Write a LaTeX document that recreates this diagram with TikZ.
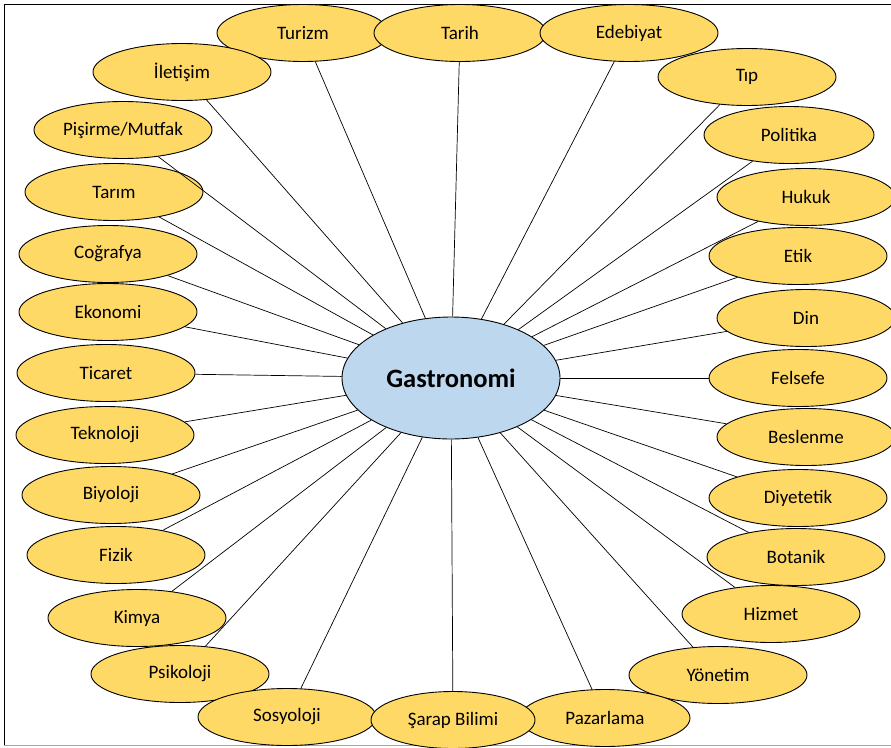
\documentclass[tikz,border=0pt]{standalone}
\usepackage{fontspec}
\setmainfont{Carlito}
\usetikzlibrary{shapes.geometric}
\definecolor{satfill}{HTML}{FFD966}
\definecolor{hubfill}{HTML}{BDD7EE}
\begin{document}
\begin{tikzpicture}[x=1pt,y=-1pt,
  sat/.style={draw,ellipse,fill=satfill,line width=0.9pt,minimum width=178pt,minimum height=57pt,inner sep=0pt,font=\fontsize{19}{21}\selectfont},
  hub/.style={draw,ellipse,fill=hubfill,line width=0.9pt,minimum width=218pt,minimum height=122pt,inner sep=0pt,font=\fontsize{26.5}{30}\selectfont\bfseries},
  link/.style={line width=0.7pt}]
		\useasboundingbox (0,0) rectangle (891,747);
		\draw[line width=0.8pt] (895,4)--(4,4)--(4,745);
		\draw[line width=0.8pt,color=black!35] (4,745)--(895,745);
		% ring of fields
		\node[sat,minimum width=172pt] (turizm) at (303,33) {Turizm};
		\node[sat,minimum width=172pt] (tarih) at (460,33) {Tarih};
		\node[sat] (edebiyat) at (629,33) {Edebiyat};
		\node[sat] (iletisim) at (182,72) {İletişim};
		\node[sat] (tip) at (747,77) {Tıp};
		\node[sat,minimum width=170pt] (politika) at (789,135) {Politika};
		\node[sat] (pisirme) at (123,130) {Pişirme/Mutfak};
		\node[sat] (tarim) at (114,192) {Tarım};
		\node[sat] (hukuk) at (806,197) {Hukuk};
		\node[sat] (cografya) at (108,254) {Coğrafya};
		\node[sat] (etik) at (798,256) {Etik};
		\node[sat] (ekonomi) at (108,312) {Ekonomi};
		\node[sat] (din) at (806,318) {Din};
		\node[sat] (ticaret) at (106,373) {Ticaret};
		\node[sat] (felsefe) at (798,378) {Felsefe};
		\node[sat] (teknoloji) at (105,435) {Teknoloji};
		\node[sat] (beslenme) at (806,437) {Beslenme};
		\node[sat] (biyoloji) at (111,495) {Biyoloji};
		\node[sat] (diyetetik) at (798,498) {Diyetetik};
		\node[sat] (fizik) at (116,555) {Fizik};
		\node[sat] (botanik) at (796,557) {Botanik};
		\node[sat] (kimya) at (137,618) {Kimya};
		\node[sat] (hizmet) at (771,614) {Hizmet};
		\node[sat] (psikoloji) at (180,674) {Psikoloji};
		\node[sat] (yonetim) at (718,675) {Yönetim};
		\node[sat] (sosyoloji) at (287,717) {Sosyoloji};
		\node[sat,minimum width=170pt] (pazarlama) at (605,718) {Pazarlama};
		\node[sat,minimum width=164pt] (sarap) at (453,720) {Şarap Bilimi};
		% hub
		\node[hub] (gastro) at (451,378) {Gastronomi};
		\foreach \n in {turizm,tarih,edebiyat,iletisim,tip,politika,pisirme,tarim,hukuk,cografya,etik,ekonomi,din,ticaret,felsefe,teknoloji,beslenme,biyoloji,diyetetik,fizik,botanik,kimya,hizmet,psikoloji,yonetim,sosyoloji,pazarlama,sarap}
			\draw[link] (\n)--(gastro);
\end{tikzpicture}
\end{document}
